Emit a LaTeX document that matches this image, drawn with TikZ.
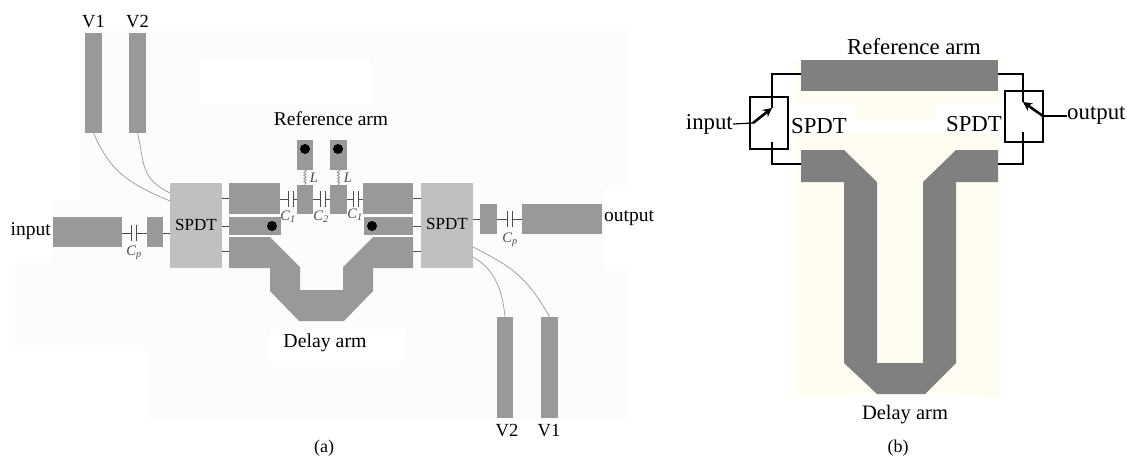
\documentclass[tikz,border=0pt]{standalone}
\usepackage{fontspec}
\setmainfont{Liberation Serif}
\usetikzlibrary{decorations.pathmorphing,arrows.meta}
\definecolor{padA}{HTML}{999999}
\definecolor{swA}{HTML}{C0C0C0}
\definecolor{padB}{HTML}{808080}
\definecolor{creamB}{HTML}{FFFCF2}
\definecolor{bgA}{HTML}{FCFCFC}
\newcommand{\blk}[6]{%
  \pgfmathsetmacro{\cxx}{(#2+#4)/2}\pgfmathsetmacro{\cyy}{(#3+#5)/2}%
  \pgfmathsetmacro{\wdd}{#4-#2}\pgfmathsetmacro{\htt}{#5-#3}%
  \node[#6,minimum width=\wdd pt,minimum height=\htt pt] (#1) at (\cxx,\cyy) {};}
\newcommand{\capv}[4]{% name, xa, xb, y
  \coordinate (#1-a) at (#2,#4);\coordinate (#1-b) at (#3,#4);
  \draw[wireA] (#2,#4-8) -- (#2,#4+8);
  \draw[wireA] (#3,#4-8) -- (#3,#4+8);}
\tikzset{
  blkbase/.style={inner sep=0pt,outer sep=0pt,rectangle},
  pada/.style={blkbase,fill=padA},
  swa/.style={blkbase,fill=swA},
  padb/.style={blkbase,fill=padB},
  swb/.style={blkbase,draw=black,line width=1.1pt},
  wireA/.style={draw=black!70,line width=1pt},
  bond/.style={draw=black!40,line width=0.7pt},
  wireB/.style={draw=black,line width=1.2pt},
  armB/.style={draw=black,line width=2.6pt,-{Stealth[length=9pt,width=9pt]}},
  via/.style={circle,fill=black,inner sep=0pt,minimum size=10pt},
  coil/.style={draw=black!50,line width=0.6pt,decorate,decoration={snake,amplitude=1.2pt,segment length=3pt}},
  lab/.style={inner sep=0pt,font=\fontsize{19.5}{20}\selectfont},
  labv/.style={inner sep=0pt,font=\fontsize{18.5}{19}\selectfont},
  labs/.style={inner sep=0pt,font=\fontsize{17}{18}\selectfont},
  labb/.style={inner sep=0pt,font=\fontsize{22.8}{23}\selectfont},
  capt/.style={inner sep=0pt,font=\fontsize{18}{19}\selectfont},
  clab/.style={inner sep=0pt,text=black!70,font=\fontsize{14.5}{15}\selectfont\itshape},
}
\begin{document}
\begin{tikzpicture}[x=1pt,y=-1pt]
\useasboundingbox (0,0) rectangle (1127,458);
\fill[white] (0,0) rectangle (1127,458);
% backgrounds
\fill[bgA] (15,30) rectangle (630,420);
\fill[white] (200,60) rectangle (370,105);
\fill[white] (15,30) rectangle (80,200);
\fill[white] (15,200) rectangle (52,262);
\fill[white] (270,330) rectangle (405,362);
\fill[white] (15,350) rectangle (150,420);
\fill[white] (604,190) rectangle (660,270);
\fill[creamB] (795,60) rectangle (1001,397);
\fill[white] (780,103) rectangle (856,135);
\fill[white] (856,120) rectangle (935,133);
\fill[white] (935,103) rectangle (1002,133);
\fill[white] (848,394) rectangle (963,397);
% ---------- panel (a)
\blk{vonea}{85}{33}{102}{133}{pada}
\blk{vtwoa}{129}{33}{146}{133}{pada}
\blk{spdtL}{170}{183}{222}{268}{swa}
\blk{spdtR}{421}{183}{473}{268}{swa}
\blk{inblk}{53}{217}{122}{247}{pada}
\blk{insm}{147}{217}{163}{247}{pada}
\blk{outsm}{480}{204}{497}{234}{pada}
\blk{outblk}{522}{204}{602}{234}{pada}
\blk{upL}{229}{183}{280}{214}{pada}
\blk{upR}{363}{183}{413}{214}{pada}
\blk{midL}{229}{217}{281}{235}{pada}
\blk{midR}{364}{217}{413}{235}{pada}
\blk{stubL}{297}{185}{313}{214}{pada}
\blk{stubR}{330}{185}{347}{214}{pada}
\blk{padL}{297}{140}{313}{170}{pada}
\blk{padR}{330}{140}{347}{170}{pada}
\blk{vtwob}{497}{317}{513}{418}{pada}
\blk{voneb}{541}{317}{558}{418}{pada}
\fill[padA] (229,237) -- (270,237) -- (300,267) -- (300,290) -- (343,290) -- (343,267) -- (373,237) -- (413,237) -- (413,268) -- (373,268) -- (373,291) -- (344,321) -- (299,321) -- (270,291) -- (270,268) -- (229,268) -- cycle;
\coordinate (dlL) at (229,251);\coordinate (dlR) at (413,251);
\node[via] (d1) at (272,226) {};
\node[via] (d2) at (372,226) {};
\node[via] (d3) at (305,149) {};
\node[via] (d4) at (338,149) {};
% connectors
\draw[wireA] (spdtL.east |- upL.west) -- (upL.west);
\draw[wireA] (spdtL.east |- midL.west) -- (midL.west);
\draw[wireA] (spdtL.east |- dlL) -- (dlL);
\draw[wireA] (spdtR.west |- upR.east) -- (upR.east);
\draw[wireA] (spdtR.west |- midR.east) -- (midR.east);
\draw[wireA] (spdtR.west |- dlR) -- (dlR);
\capv{cpL}{131}{136}{233}
\draw[wireA] (inblk.east |- cpL-a) -- (cpL-a);
\draw[wireA] (cpL-b) -- (insm.west |- cpL-b);
\draw[wireA] (insm.east |- cpL-b) -- (spdtL.west |- cpL-b);
\capv{cpR}{507}{512}{219}
\draw[wireA] (spdtR.east |- outsm.west) -- (outsm.west);
\draw[wireA] (outsm.east |- cpR-a) -- (cpR-a);
\draw[wireA] (cpR-b) -- (outblk.west |- cpR-b);
\capv{cone}{288}{293}{199}
\draw[wireA] (upL.east |- cone-a) -- (cone-a);
\draw[wireA] (cone-b) -- (stubL.west |- cone-b);
\capv{ctwo}{320}{325}{199}
\draw[wireA] (stubL.east |- ctwo-a) -- (ctwo-a);
\draw[wireA] (ctwo-b) -- (stubR.west |- ctwo-b);
\capv{cthree}{353}{358}{199}
\draw[wireA] (stubR.east |- cthree-a) -- (cthree-a);
\draw[wireA] (cthree-b) -- (upR.west |- cthree-b);
\draw[coil] (padL.south) -- (stubL.north);
\draw[coil] (padR.south) -- (stubR.north);
% bond wires
\coordinate (bC) at (170,201);\coordinate (bD) at (170,193);
\coordinate (bE) at (473,247);\coordinate (bF) at (473,257);
\draw[bond] (vonea.south) .. controls (110,170) and (125,182) .. (bC);
\draw[bond] (vtwoa.south) .. controls (145,165) and (140,178) .. (bD);
\draw[bond] (bE) .. controls (505,264) and (525,272) .. (voneb.north);
\draw[bond] (bF) .. controls (492,268) and (502,285) .. (vtwob.north);
% labels
\node[labv] (t1) at (93.5,22) {V1};
\node[labv] (t2) at (137.5,22) {V2};
\node[labv] (t3) at (507,431) {V2};
\node[labv] (t4) at (549,431) {V1};
\node[lab,anchor=east] (t5) at (51,231) {input};
\node[lab,anchor=west] (t6) at (604,218) {output};
\node[labs] (t7) at (196,225) {SPDT};
\node[labs] (t8) at (447,224) {SPDT};
\node[lab] (t9) at (331,119) {Reference arm};
\node[lab,font=\fontsize{19.8}{21}\selectfont] (t10) at (325,343) {Delay arm};
\node[capt] (t11) at (324,448) {(a)};
\node[clab] (c1) at (134,253) {C\textsubscript{p}};
\node[clab] (c2) at (510,240) {C\textsubscript{p}};
\node[clab] (c3) at (288,217) {C\textsubscript{1}};
\node[clab] (c4) at (321,217) {C\textsubscript{2}};
\node[clab] (c5) at (355,215) {C\textsubscript{1}};
\node[clab] (c6) at (314,178) {L};
\node[clab] (c7) at (348,178) {L};
% ---------- panel (b)
\blk{refarm}{801}{60}{998}{91}{padb}
\fill[padB] (801,150) -- (844,150) -- (877,182) -- (877,363) -- (923,363) -- (923,182) -- (956,150) -- (998,150) -- (998,182) -- (956,182) -- (956,363) -- (925,394) -- (877,394) -- (844,363) -- (844,182) -- (801,182) -- cycle;
\coordinate (dLb) at (801,164);\coordinate (dRb) at (998,164);
\coordinate (rLb) at (801,74);\coordinate (rRb) at (998,74);
\blk{swL}{750}{97}{788}{149}{swb}
\blk{swR}{1005}{91}{1043}{142}{swb}
\coordinate (pLa) at (772,108);\coordinate (pLb) at (772,142);\coordinate (pLc) at (753,123);
\coordinate (pRa) at (1023,102);\coordinate (pRb) at (1023,132);\coordinate (pRc) at (1043,116);
\coordinate (bendA) at (772,74);\coordinate (bendB) at (772,164);
\coordinate (bendC) at (1023,74);\coordinate (bendD) at (1023,164);
\draw[wireB] (rLb) -- (bendA) -- (pLa);
\draw[wireB] (dLb) -- (bendB) -- (pLb);
\draw[wireB] (rRb) -- (bendC) -- (pRa);
\draw[wireB] (dRb) -- (bendD) -- (pRb);
\draw[armB] (pLc) -- (pLa);
\draw[armB] (pRc) -- (pRa);
\node[labb,anchor=east] (u1) at (733,124) {input};
\node[labb,anchor=west] (u2) at (1067,116) {output};
\draw[wireB] (u1.east) -- (pLc);
\draw[wireB] (pRc) -- (u2.west);
\node[labb] (u3) at (819,126) {SPDT};
\node[labb] (u4) at (974,124) {SPDT};
\node[labb] (u5) at (914,47) {Reference arm};
\node[lab,font=\fontsize{20.5}{21}\selectfont] (u6) at (905,415) {Delay arm};
\node[capt] (u7) at (898,448) {(b)};
\end{tikzpicture}
\end{document}
